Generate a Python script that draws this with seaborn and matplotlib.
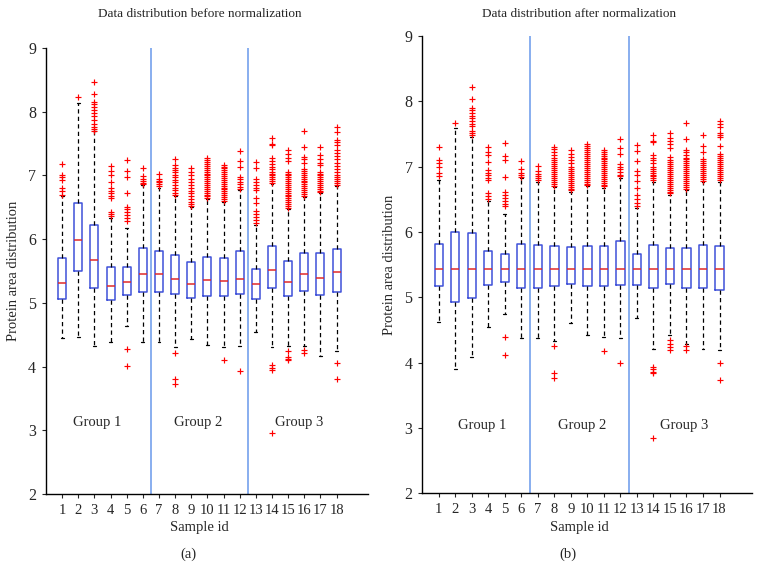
import pandas as pd
import matplotlib
matplotlib.use("Agg")
import matplotlib.pyplot as plt
import matplotlib.transforms as mtransforms
import seaborn as sns

# sample ids
samples = list(range(1, 19))

# before normalization (panel a)
b_med = [5.31, 5.99, 5.67, 5.27, 5.32, 5.46, 5.45, 5.38, 5.29, 5.36, 5.34, 5.38, 5.30, 5.52, 5.33, 5.45, 5.39, 5.49]
b_q1 = [5.06, 5.50, 5.23, 5.04, 5.12, 5.17, 5.17, 5.14, 5.07, 5.11, 5.10, 5.14, 5.06, 5.24, 5.10, 5.18, 5.12, 5.17]
b_q3 = [5.70, 6.56, 6.22, 5.56, 5.57, 5.86, 5.82, 5.75, 5.64, 5.72, 5.70, 5.81, 5.53, 5.90, 5.65, 5.78, 5.78, 5.84]
b_whishi = [6.67, 8.14, 7.69, 6.33, 6.18, 6.85, 6.80, 6.67, 6.50, 6.63, 6.59, 6.77, 6.22, 6.87, 6.47, 6.66, 6.73, 6.84]
b_whislo = [4.45, 4.46, 4.32, 4.39, 4.64, 4.39, 4.39, 4.30, 4.44, 4.34, 4.31, 4.33, 4.55, 4.30, 4.32, 4.32, 4.16, 4.25]
b_out = [
    [7.18, 7.00, 6.97, 6.93, 6.80, 6.76, 6.70],
    [8.23],
    [8.46, 8.28, 8.15, 8.12, 8.08, 8.03, 7.98, 7.93, 7.87, 7.81, 7.76, 7.73, 7.70],
    [7.15, 7.07, 7.00, 6.89, 6.80, 6.76, 6.72, 6.68, 6.64, 6.43, 6.40, 6.36],
    [7.24, 7.07, 6.98, 6.73, 6.51, 6.47, 6.43, 6.38, 6.33, 6.29, 4.28, 4.01],
    [7.12, 6.99, 6.95, 6.91, 6.88, 6.87],
    [7.03, 6.95, 6.92, 6.89, 6.86, 6.83],
    [7.26, 7.16, 7.12, 7.08, 7.05, 7.01, 6.97, 6.93, 6.89, 6.85, 6.81, 6.77, 6.73, 6.69, 4.21, 3.80, 3.72],
    [7.12, 7.06, 7.00, 6.95, 6.90, 6.85, 6.80, 6.76, 6.72, 6.67, 6.63, 6.59, 6.55, 6.52],
    [7.27, 7.24, 7.21, 7.18, 7.15, 7.12, 7.09, 7.06, 7.03, 7.00, 6.97, 6.94, 6.91, 6.88, 6.85, 6.82, 6.79, 6.76, 6.73, 6.70, 6.67, 6.64],
    [7.17, 7.14, 7.11, 7.08, 7.05, 7.02, 6.99, 6.96, 6.93, 6.90, 6.87, 6.84, 6.81, 6.78, 6.75, 6.72, 6.69, 6.66, 6.63, 6.60, 4.10],
    [7.39, 7.23, 7.14, 6.98, 6.94, 6.90, 6.86, 6.82, 6.78, 3.93],
    [7.21, 7.11, 6.95, 6.90, 6.85, 6.80, 6.77, 6.64, 6.56, 6.44, 6.40, 6.35, 6.30, 6.25],
    [7.58, 7.50, 7.48, 7.27, 7.22, 7.18, 7.14, 7.10, 7.06, 7.03, 7.00, 6.97, 6.94, 6.91, 6.88, 4.02, 3.98, 3.94, 2.95],
    [7.40, 7.33, 7.28, 7.22, 7.06, 7.03, 7.00, 6.97, 6.94, 6.91, 6.88, 6.85, 6.82, 6.79, 6.76, 6.73, 6.70, 6.67, 6.64, 6.61, 6.58, 6.55, 6.52, 6.49,
     4.24, 4.15, 4.12, 4.10],
    [7.70, 7.45, 7.29, 7.25, 7.20, 7.10, 7.07, 7.04, 7.01, 6.98, 6.95, 6.92, 6.89, 6.86, 6.83, 6.80, 6.77, 6.74, 6.71, 6.68, 4.26, 4.22],
    [7.44, 7.32, 7.26, 7.20, 7.17, 7.06, 7.03, 7.00, 6.97, 6.94, 6.91, 6.88, 6.85, 6.82, 6.79, 6.76, 6.74],
    [7.76, 7.68, 7.56, 7.52, 7.48, 7.40, 7.35, 7.30, 7.25, 7.20, 7.15, 7.10, 7.05, 7.00, 6.97, 6.94, 6.91, 6.88, 6.85, 4.06, 3.80],
]

# after normalization (panel b)
a_med = [5.43] * 18
a_q1 = [5.17, 4.93, 4.99, 5.19, 5.23, 5.14, 5.15, 5.18, 5.20, 5.18, 5.18, 5.19, 5.19, 5.15, 5.20, 5.15, 5.15, 5.11]
a_q3 = [5.82, 6.00, 5.98, 5.71, 5.67, 5.81, 5.80, 5.79, 5.77, 5.79, 5.79, 5.86, 5.66, 5.80, 5.75, 5.75, 5.80, 5.78]
a_whishi = [6.79, 7.59, 7.46, 6.48, 6.28, 6.82, 6.76, 6.69, 6.62, 6.70, 6.68, 6.82, 6.36, 6.77, 6.56, 6.64, 6.76, 6.77]
a_whislo = [4.62, 3.90, 4.09, 4.55, 4.75, 4.37, 4.38, 4.33, 4.60, 4.42, 4.40, 4.38, 4.69, 4.21, 4.42, 4.29, 4.21, 4.19]
a_out = [
    [7.30, 7.10, 7.05, 7.00, 6.90, 6.85],
    [7.67],
    [8.22, 8.03, 7.90, 7.86, 7.82, 7.78, 7.74, 7.70, 7.66, 7.62, 7.55, 7.51, 7.48],
    [7.30, 7.22, 7.18, 7.07, 6.95, 6.91, 6.87, 6.83, 6.80, 6.60, 6.55, 6.50],
    [7.36, 7.17, 7.10, 6.84, 6.62, 6.57, 6.52, 6.47, 6.43, 6.40, 4.40, 4.12],
    [7.09, 6.97, 6.90, 6.87, 6.84],
    [7.01, 6.93, 6.89, 6.86, 6.82, 6.79],
    [7.30, 7.27, 7.22, 7.18, 7.14, 7.10, 7.07, 7.04, 7.01, 6.98, 6.95, 6.92, 6.89, 6.86, 6.83, 6.80, 6.77, 6.74, 6.71, 4.25, 3.84, 3.76],
    [7.26, 7.20, 7.15, 7.10, 7.05, 7.00, 6.96, 6.93, 6.90, 6.87, 6.84, 6.81, 6.78, 6.75, 6.72, 6.69, 6.66, 6.64],
    [7.34, 7.31, 7.28, 7.25, 7.22, 7.19, 7.16, 7.13, 7.10, 7.07, 7.04, 7.01, 6.98, 6.95, 6.92, 6.89, 6.86, 6.83, 6.80, 6.77, 6.74, 6.72],
    [7.26, 7.23, 7.20, 7.17, 7.14, 7.11, 7.08, 7.05, 7.02, 6.99, 6.96, 6.93, 6.90, 6.87, 6.84, 6.81, 6.78, 6.75, 6.72, 6.70, 4.18],
    [7.43, 7.29, 7.19, 7.04, 7.00, 6.96, 6.92, 6.88, 6.85, 3.99],
    [7.33, 7.24, 7.08, 6.93, 6.87, 6.78, 6.67, 6.56, 6.50, 6.45, 6.40],
    [7.49, 7.40, 7.38, 7.18, 7.14, 7.10, 7.05, 7.00, 6.97, 6.94, 6.91, 6.88, 6.85, 6.82, 6.79, 3.94, 3.90, 3.86, 3.84, 2.85],
    [7.51, 7.44, 7.39, 7.34, 7.29, 7.15, 7.10, 7.07, 7.04, 7.01, 6.98, 6.95, 6.92, 6.89, 6.86, 6.83, 6.80, 6.77, 6.74, 6.71, 6.68, 6.65, 6.62, 6.59,
     4.35, 4.28, 4.24, 4.20],
    [7.67, 7.43, 7.26, 7.22, 7.18, 7.14, 7.11, 7.08, 7.05, 7.02, 6.99, 6.96, 6.93, 6.90, 6.87, 6.84, 6.81, 6.78, 6.75, 6.72, 6.69, 6.66, 4.25, 4.20],
    [7.48, 7.32, 7.23, 7.11, 7.08, 7.05, 7.02, 6.99, 6.96, 6.93, 6.90, 6.87, 6.84, 6.81, 6.78],
    [7.70, 7.65, 7.60, 7.51, 7.48, 7.45, 7.32, 7.19, 7.16, 7.13, 7.10, 7.07, 7.04, 7.01, 6.98, 6.95, 6.92, 6.89, 6.86, 6.83, 6.80, 4.00, 3.74],
]

group_names = ["Group 1", "Group 2", "Group 3"]
group_sep = [6.5, 12.5]

sns.set_style("ticks")
plt.rcParams['font.family'] = ['Liberation Serif', 'DejaVu Serif']

fig = plt.figure(figsize=(7.61, 5.81), dpi=100)
ax_a = fig.add_axes([0.0604, 0.1497, 0.4232, 0.7677])
ax_b = fig.add_axes([0.5549, 0.1509, 0.4329, 0.7871])

BOX = '#3f51d9'
MED = '#e02a2a'
SEP = '#7fa8ee'


def draw_panel(ax, med, q1, q3, lo, hi, out, title, letter, group_pos, group_y):
    stats = []
    for i in range(len(samples)):
        stats.append(dict(med=med[i], q1=q1[i], q3=q3[i], whislo=lo[i], whishi=hi[i], fliers=[]))
    ax.bxp(stats, positions=samples, widths=0.5, showfliers=False, manage_ticks=False,
           boxprops=dict(color=BOX, linewidth=1.1),
           medianprops=dict(color=MED, linewidth=1.1),
           whiskerprops=dict(color='black', linewidth=0.9, linestyle=(0, (3.4, 2.6))),
           capprops=dict(color='black', linewidth=0.9), capwidths=0.18)

    rows = []
    for s, vals in zip(samples, out):
        for v in vals:
            rows.append({'sample': s, 'value': v})
    df = pd.DataFrame(rows)
    sns.scatterplot(data=df, x='sample', y='value', marker='+', color='red', s=25,
                    linewidth=0.85, ax=ax, legend=False, zorder=3)

    for xs in group_sep:
        ax.axvline(xs, color=SEP, linewidth=1.3, zorder=1)

    ax.set_xlim(0, 19.95)
    ax.set_ylim(2, 9)
    ax.set_xticks(samples)
    ax.set_xticklabels([str(s) for s in samples])
    ax.set_yticks(range(2, 10))
    ax.tick_params(axis='x', direction='out', length=3, width=0.8, labelsize=10.5, pad=4)
    ax.tick_params(axis='y', direction='out', length=3, width=0.8, labelsize=11.5, pad=4)
    for side in ['top', 'right']:
        ax.spines[side].set_visible(False)
    for side in ['left', 'bottom']:
        ax.spines[side].set_color('black')
        ax.spines[side].set_linewidth(1.0)
    ax.set_xlabel('')
    ax.set_ylabel('Protein area distribution', fontsize=10.5, labelpad=6)

    for name, gx in zip(group_names, group_pos):
        ax.text(gx, group_y, name, ha='center', va='center', fontsize=10.5)

    tr = mtransforms.blended_transform_factory(ax.transData, fig.transFigure)
    ax.text(9.5, 1 - 14 / 581, title, transform=tr, ha='center', va='center', fontsize=9.5)
    ax.text(9.5, 1 - 528 / 581, 'Sample id', transform=tr, ha='center', va='center', fontsize=10.5)
    ax.text(8.8, 1 - 554 / 581, letter, transform=tr, ha='center', va='center', fontsize=10.5)


draw_panel(ax_a, b_med, b_q1, b_q3, b_whislo, b_whishi, b_out,
           'Data distribution before normalization', '(a)', [3.15, 9.45, 15.7], 3.12)
draw_panel(ax_b, a_med, a_q1, a_q3, a_whislo, a_whishi, a_out,
           'Data distribution after normalization', '(b)', [3.6, 9.65, 15.85], 3.04)

fig.savefig('out.png', dpi=100)
